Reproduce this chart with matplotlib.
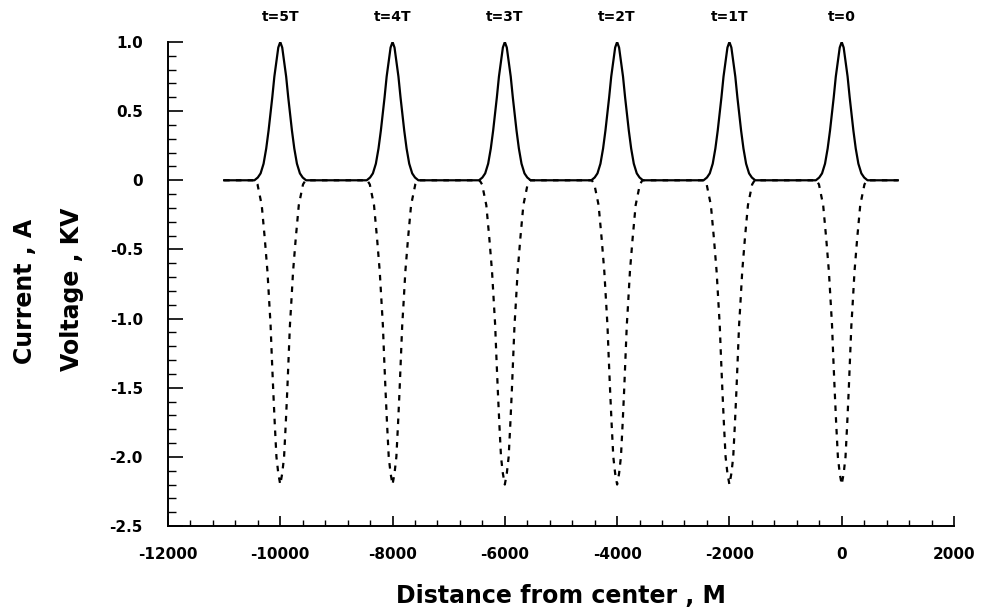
import numpy as np
import matplotlib
matplotlib.use("Agg")
import matplotlib.pyplot as plt
from matplotlib.ticker import MultipleLocator, FixedLocator, FuncFormatter

# ─── data ──────────────────────────────────────────────
pulse_centers = [-10000, -8000, -6000, -4000, -2000, 0]
pulse_labels  = ["t=5T", "t=4T", "t=3T", "t=2T", "t=1T", "t=0"]
line_start, line_end = -11000, 1000

# one side of the current pulse (distance from centre, A)
current_off = [0, 35, 71, 105, 142, 208, 250, 297, 350, 400, 460]
current_val = [1.0, 0.96, 0.85, 0.75, 0.60, 0.36, 0.23, 0.12, 0.05, 0.02, 0.0]

# one side of the voltage dip (distance from centre, KV)
voltage_off = [0, 35, 68, 98, 125, 151, 172, 193, 228, 276, 330, 405, 450]
voltage_val = [-2.2, -2.12, -2.0, -1.76, -1.52, -1.27, -1.05, -0.91,
               -0.66, -0.42, -0.18, -0.03, 0.0]

x_ticks = [-12000, -10000, -8000, -6000, -4000, -2000, 0, 2000]
y_ticks = [-2.5, -2.0, -1.5, -1.0, -0.5, 0, 0.5, 1.0]


def build_trace(off, val):
    off = np.asarray(off, float)
    val = np.asarray(val, float)
    shape_x = np.concatenate([-off[::-1], off[1:]])
    shape_y = np.concatenate([val[::-1], val[1:]])
    xs, ys = [line_start], [0.0]
    for c in pulse_centers:
        xs.extend(c + shape_x)
        ys.extend(shape_y)
    xs.append(line_end)
    ys.append(0.0)
    return np.array(xs), np.array(ys)


plt.rcParams["font.family"] = ["DejaVu Sans"]
plt.rcParams["axes.unicode_minus"] = False

fig = plt.figure(figsize=(9.84, 6.13), dpi=100)
ax = fig.add_axes([0.1707, 0.1419, 0.7988, 0.7896])

vx, vy = build_trace(voltage_off, voltage_val)
ax.plot(vx, vy, color="black", linewidth=1.6, linestyle=(0, (2.5, 2.8)), zorder=2)
cx, cy = build_trace(current_off, current_val)
ax.plot(cx, cy, color="black", linewidth=1.6, zorder=3)

ax.set_xlim(-12000, 2000)
ax.set_ylim(-2.5, 1.0)

for c, lab in zip(pulse_centers, pulse_labels):
    ax.text(c, 1.18, lab, ha="center", va="center", fontsize=10,
            fontweight="bold", clip_on=False)

ax.xaxis.set_major_locator(FixedLocator(x_ticks))
ax.xaxis.set_minor_locator(MultipleLocator(400))
ax.yaxis.set_major_locator(FixedLocator(y_ticks))
ax.yaxis.set_minor_locator(MultipleLocator(0.1))
ax.xaxis.set_major_formatter(FuncFormatter(lambda v, _: f"{v:.0f}"))
ax.yaxis.set_major_formatter(
    FuncFormatter(lambda v, _: "0" if abs(v) < 1e-9 else f"{v:.1f}"))

ax.tick_params(axis="y", which="major", direction="in", length=11, width=1.2,
               pad=18, labelsize=11)
ax.tick_params(axis="y", which="minor", direction="in", length=6, width=1.0)
ax.tick_params(axis="x", which="major", direction="in", length=7, width=1.2,
               pad=15, labelsize=11)
ax.tick_params(axis="x", which="minor", direction="in", length=4, width=1.0)
for lab in ax.get_xticklabels() + ax.get_yticklabels():
    lab.set_fontweight("bold")

for s in ("top", "right"):
    ax.spines[s].set_visible(False)
for s in ("left", "bottom"):
    ax.spines[s].set_linewidth(1.4)

ax.set_xlabel("Distance from center , M", fontsize=17, fontweight="bold",
              labelpad=16)
fig.text(25 / 984, 1 - 291 / 613, "Current , A", rotation=90, ha="center",
         va="center", fontsize=17, fontweight="bold")
fig.text(72 / 984, 1 - 289 / 613, "Voltage , KV", rotation=90, ha="center",
         va="center", fontsize=17, fontweight="bold")

fig.savefig("out.png", dpi=100, facecolor="white")
